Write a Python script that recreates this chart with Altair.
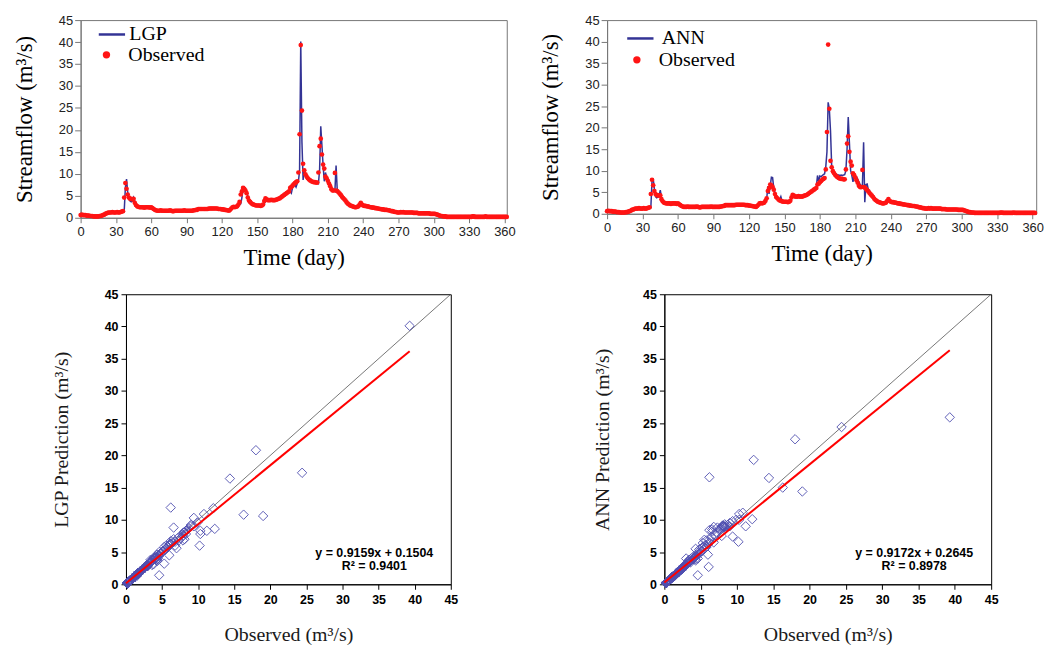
import altair as alt
import pandas as pd

# ---------------- data ----------------
observed = [
    0.6, 0.7, 0.6, 0.6, 0.6, 0.5, 0.5, 0.5, 0.4, 0.4,
    0.4, 0.3, 0.3, 0.3, 0.3, 0.3, 0.4, 0.4, 0.5, 0.6,
    0.7, 0.9, 1.0, 1.1, 1.2, 1.2, 1.2, 1.3, 1.2, 1.2,
    1.2, 1.3, 1.2, 1.2, 1.3, 1.4, 1.5, 4.6, 7.9, 6.6,
    5.3, 4.6, 4.3, 4.3, 4.2, 4.3, 3.4, 2.9, 2.6, 2.5,
    2.4, 2.4, 2.4, 2.4, 2.3, 2.4, 2.4, 2.4, 2.4, 2.3,
    2.4, 2.2, 2.0, 1.8, 1.7, 1.6, 1.6, 1.6, 1.7, 1.6,
    1.6, 1.6, 1.6, 1.6, 1.6, 1.6, 1.7, 1.6, 1.5, 1.5,
    1.6, 1.6, 1.6, 1.6, 1.6, 1.6, 1.6, 1.6, 1.7, 1.6,
    1.6, 1.6, 1.6, 1.6, 1.6, 1.6, 1.7, 1.7, 1.8, 1.8,
    2.0, 2.0, 2.0, 2.0, 2.0, 2.0, 2.0, 2.0, 2.0, 2.1,
    2.1, 2.1, 2.1, 2.1, 2.1, 2.1, 2.1, 2.0, 2.0, 2.0,
    1.9, 1.9, 1.8, 1.8, 1.7, 1.7, 1.6, 1.8, 2.1, 2.4,
    2.5, 2.4, 2.5, 2.6, 3.0, 3.6, 5.3, 6.0, 6.8, 6.6,
    6.2, 5.6, 4.6, 3.9, 3.6, 3.3, 3.1, 3.0, 2.9, 2.8,
    2.8, 2.8, 2.8, 2.7, 2.8, 3.0, 3.8, 4.4, 4.2, 4.0,
    4.0, 4.0, 4.1, 4.0, 4.0, 4.0, 4.1, 4.2, 4.3, 4.4,
    4.6, 4.8, 5.0, 5.2, 5.4, 5.6, 5.8, 6.0, 6.8, 7.0,
    7.3, 7.6, 7.9, 8.1, 8.3, 10.3, 19.0, 39.3, 24.4, 12.3,
    10.8, 9.9, 9.4, 9.0, 8.7, 8.5, 8.3, 8.2, 8.1, 8.1,
    8.0, 8.0, 10.3, 16.3, 18.0, 14.4, 12.1, 11.2, 9.4, 9.0,
    8.4, 7.8, 7.2, 6.5, 6.2, 6.2, 10.2, 6.2, 6.1, 5.8,
    5.5, 5.2, 4.8, 4.5, 4.2, 3.9, 3.5, 3.2, 3.0, 2.8,
    2.7, 2.6, 2.5, 2.4, 2.4, 2.5, 2.6, 3.0, 3.4, 3.0,
    2.8, 2.7, 2.7, 2.6, 2.6, 2.5, 2.4, 2.4, 2.3, 2.3,
    2.2, 2.2, 2.1, 2.1, 2.0, 2.0, 1.9, 1.9, 1.8, 1.8,
    1.8, 1.7, 1.7, 1.6, 1.5, 1.5, 1.4, 1.3, 1.3, 1.2,
    1.2, 1.2, 1.3, 1.2, 1.3, 1.2, 1.2, 1.2, 1.2, 1.2,
    1.2, 1.2, 1.2, 1.1, 1.1, 1.1, 1.1, 1.0, 1.0, 1.0,
    1.0, 1.0, 1.0, 1.0, 1.0, 1.0, 1.0, 0.9, 0.9, 0.9,
    0.9, 0.9, 0.8, 0.7, 0.6, 0.5, 0.4, 0.4, 0.3, 0.3,
    0.3, 0.2, 0.2, 0.2, 0.2, 0.2, 0.2, 0.2, 0.2, 0.2,
    0.2, 0.2, 0.2, 0.2, 0.2, 0.2, 0.2, 0.2, 0.2, 0.2,
    0.2, 0.2, 0.2, 0.3, 0.3, 0.2, 0.2, 0.2, 0.2, 0.2,
    0.2, 0.2, 0.2, 0.2, 0.3, 0.2, 0.2, 0.2, 0.2, 0.2,
    0.2, 0.2, 0.2, 0.2, 0.2, 0.2, 0.2, 0.2, 0.2, 0.2,
    0.2, 0.2, 0.2,
]
days = list(range(len(observed)))

# model predictions: days where the predicted line leaves the observed dots
lgp_days = [36, 37, 38, 39, 40, 41, 42, 43, 44, 45, 46, 47,
            134, 135, 136, 137, 138, 139, 140, 141, 142, 143, 144,
            155, 156, 157,
            178, 179, 180, 181, 182, 183, 184, 185, 186, 187, 188, 189, 190, 191, 192,
            202, 203, 204, 205, 206, 207, 208, 209,
            215, 216, 217, 218]
lgp_vals = [1.3, 1.4, 6.8, 8.8, 5.8, 4.4, 3.8, 3.6, 3.8, 4.6, 3.8, 3.0,
            2.8, 3.0, 3.2, 4.5, 6.6, 7.0, 6.7, 6.0, 5.0, 4.2, 3.8,
            2.9, 3.1, 4.0,
            6.0, 5.6, 6.8, 7.2, 7.5, 7.0, 7.8, 8.3, 10.6, 40.1, 17.3, 8.6, 10.9, 9.6, 9.0,
            7.8, 10.8, 20.8, 16.4, 11.8, 8.3, 10.3, 9.2,
            6.3, 6.0, 11.9, 6.3]

ann_days = [36, 37, 38, 39, 40, 41, 42, 43, 44, 45, 46, 47,
            134, 135, 136, 137, 138, 139, 140, 141, 142, 143, 144, 145, 146, 147, 148,
            176, 177, 178, 179, 180, 181, 182, 183, 184, 185, 186, 187, 188, 189,
            190, 191, 192, 193, 194, 195, 196, 197, 198, 199, 200, 201,
            202, 203, 204, 205, 206, 207, 208, 209, 210, 211, 212, 213, 214, 215,
            216, 217, 218, 219, 220, 221, 222]
ann_vals = [1.4, 1.4, 7.5, 8.2, 5.8, 4.0, 3.7, 3.9, 4.3, 5.5, 3.8, 3.0,
            3.0, 3.4, 6.4, 4.6, 6.5, 8.5, 8.4, 6.0, 4.9, 4.2, 3.9, 3.5, 3.3, 4.0, 3.0,
            5.8, 6.2, 8.9, 7.6, 8.8, 8.6, 8.9, 9.1, 9.3, 10.9, 14.4, 25.9, 24.4, 19.3,
            11.1, 10.0, 9.8, 9.5, 9.2, 9.0, 9.0, 8.9, 9.0, 8.9, 9.0, 9.1,
            10.0, 15.0, 22.5, 16.5, 10.1, 9.0, 7.4, 9.0, 8.8, 8.6, 8.0, 7.4, 6.9, 6.5,
            6.6, 16.6, 2.7, 6.8, 6.9, 5.6, 5.4]

# regression annotations: slope, intercept, R^2
lgp_fit = [0.9159, 0.1504, 0.9401]
ann_fit = [0.9172, 0.2645, 0.8978]

time_ticks = [0, 30, 60, 90, 120, 150, 180, 210, 240, 270, 300, 330, 360]
flow_ticks = [0, 5, 10, 15, 20, 25, 30, 35, 40, 45]


def build_series(day_list, val_list):
    over = dict(zip(day_list, val_list))
    return [over.get(d, v) for d, v in zip(days, observed)]


lgp = build_series(lgp_days, lgp_vals)
ann = build_series(ann_days, ann_vals)

SERIF = "Liberation Serif"
SANS = "Liberation Sans"
NAVY = "#1d1d8a"
RED = "#ff1414"
DIAMOND = "#5050b0"
UNIT = "(m\u00b3/s)"


def time_panel(name, pred, w, h, xmax, leg):
    df = pd.DataFrame({"day": days, "obs": observed, "pred": pred,
                       "model": name, "kind": "Observed"})
    x = alt.X("day:Q", scale=alt.Scale(domain=[0, xmax], nice=False, zero=False),
              axis=alt.Axis(values=time_ticks, title="Time (day)", grid=False,
                            labelFont=SANS, labelFontSize=13, labelColor="#222",
                            tickSize=5, tickColor="#777", domainColor="#777",
                            labelFlush=False, labelPadding=3, labelOverlap=False,
                            titleFont=SERIF, titleFontSize=23, titleFontWeight="normal",
                            titleColor="black", titlePadding=8))
    yax = alt.Axis(values=flow_ticks, title="Streamflow " + UNIT, grid=False,
                   labelFont=SANS, labelFontSize=13, labelColor="#222",
                   tickSize=6, tickColor="#777", domainColor="#777", labelPadding=2,
                   labelOverlap=False,
                   titleFont=SERIF, titleFontSize=23, titleFontWeight="normal",
                   titleColor="black", titlePadding=22)
    ysc = alt.Scale(domain=[0, 45], nice=False)
    line = alt.Chart(df).mark_line(strokeWidth=1.5, opacity=0.9).encode(
        x=x,
        y=alt.Y("pred:Q", scale=ysc, axis=yax),
        stroke=alt.Stroke("model:N", scale=alt.Scale(domain=[name], range=[NAVY]),
                          legend=alt.Legend(orient="none", legendX=leg[0], legendY=leg[1],
                                            title=None, symbolType="stroke",
                                            symbolSize=700, symbolStrokeWidth=2.5,
                                            labelFont=SERIF, labelFontSize=20,
                                            labelColor="black", labelOffset=leg[2])),
    )
    pts = alt.Chart(df).mark_circle(size=22, opacity=1).encode(
        x=x,
        y=alt.Y("obs:Q", scale=ysc, axis=yax),
        fill=alt.Fill("kind:N", scale=alt.Scale(domain=["Observed"], range=[RED]),
                      legend=alt.Legend(orient="none", legendX=leg[3], legendY=leg[4],
                                        title=None, symbolType="circle",
                                        symbolSize=55, symbolStrokeWidth=0,
                                        labelFont=SERIF, labelFontSize=20,
                                        labelColor="black", labelOffset=leg[5])),
    )
    return alt.layer(line, pts).properties(
        width=w, height=h, view=alt.ViewBackground(stroke="#777", strokeWidth=1))


def scatter_panel(name, pred, fit, w, h, tpad):
    df = pd.DataFrame({"obs": observed, "pred": pred})
    sc = alt.Scale(domain=[0, 45], nice=False)
    common = dict(values=flow_ticks, grid=False, labelFont=SANS, labelFontSize=12.5,
                  labelFontWeight="bold", labelColor="black", tickSize=5,
                  tickColor="black", domainColor="black", labelOverlap=False,
                  titleFont=SERIF, titleFontSize=20, titleFontWeight="normal",
                  titleColor="#1a1a1a")
    xax = alt.Axis(title="Observed " + UNIT, titlePadding=19, labelPadding=4,
                   labelFlush=False, **common)
    yax = alt.Axis(title=name + " Prediction " + UNIT, titlePadding=tpad,
                   labelPadding=3, **common)
    X = alt.X("obs:Q", scale=sc, axis=xax)
    Y = alt.Y("pred:Q", scale=sc, axis=yax)
    one = pd.DataFrame({"obs": [0, 45], "pred": [0, 45]})
    diag = alt.Chart(one).mark_line(color="#555", strokeWidth=0.8).encode(x=X, y=Y)
    pts = alt.Chart(df).mark_point(shape="diamond", filled=False, size=90,
                                   strokeWidth=1, color=DIAMOND, opacity=0.9).encode(
        x=X, y=Y)
    xmax = max(observed)
    reg = pd.DataFrame({"obs": [0, xmax], "pred": [fit[1], fit[0] * xmax + fit[1]]})
    regl = alt.Chart(reg).mark_line(color="#ff0000", strokeWidth=2).encode(x=X, y=Y)
    txt = pd.DataFrame({
        "obs": [34.4, 34.4],
        "pred": [4.9, 2.8],
        "label": ["y = %.4fx + %.4f" % (fit[0], fit[1]), "R\u00b2 = %.4f" % fit[2]],
    })
    ann_txt = alt.Chart(txt).mark_text(font=SANS, fontSize=12.5, fontWeight="bold",
                                       color="black", align="center",
                                       baseline="middle").encode(
        x=X, y=Y, text="label:N")
    return alt.layer(diag, pts, regl, ann_txt).properties(
        width=w, height=h, view=alt.ViewBackground(stroke="black", strokeWidth=1))


tl = time_panel("LGP", lgp, 429, 199, 362, (17, 0, 3, 16, 25, 12))
tr = time_panel("ANN", ann, 432, 195, 363, (19, 4, 7, 20, 30, 12))
bl = scatter_panel("LGP", lgp, lgp_fit, 327, 292, 33)
br = scatter_panel("ANN", ann, ann_fit, 329, 292, 30)

top = alt.hconcat(tl, tr, spacing=101, bounds="flush").resolve_scale(
    stroke="independent", fill="independent").resolve_legend(
    stroke="independent", fill="independent")
bottom = alt.hconcat(bl, br, spacing=215, bounds="flush")
chart = alt.vconcat(top, bottom, spacing=17, center=True).resolve_scale(
    stroke="independent", fill="independent").resolve_legend(
    stroke="independent", fill="independent").configure(
    background="white", padding={"left": 5, "top": 3, "right": 5, "bottom": 5}
)

chart.save("out.html", embed_options={"renderer": "svg", "actions": False})
